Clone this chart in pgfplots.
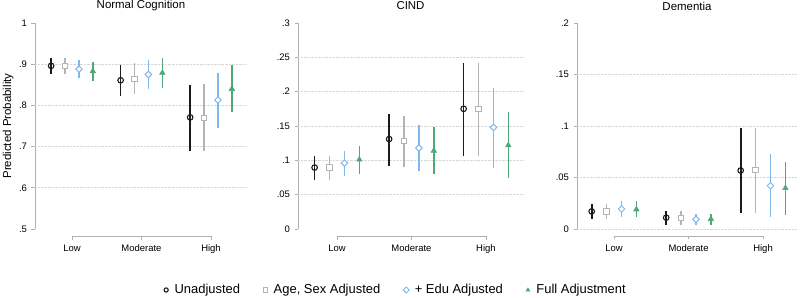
\documentclass[border=0pt]{standalone}
\usepackage{fontspec}
\setmainfont{Liberation Sans}
\usepackage{pgfplots}
\usepackage{pgfplotstable}
\pgfplotsset{compat=1.18}

\definecolor{cblack}{HTML}{1A1A1A}
\definecolor{cgray}{HTML}{B4B4B4}
\definecolor{cblue}{HTML}{7DB8EE}
\definecolor{cgreen}{HTML}{4FA877}
\definecolor{axgray}{HTML}{B0B0B0}
\definecolor{gridc}{HTML}{D8D8D8}

% cat, unadjusted (b), age-sex (g), +edu (u), full (f): value, low, high
\pgfplotstableread{
cat b bl bh g gl gh u ul uh f fl fh
0 .896 .876 .916 .895 .876 .916 .888 .866 .909 .883 .860 .906
1 .861 .823 .899 .864 .827 .902 .875 .840 .909 .879 .843 .914
2 .771 .690 .850 .770 .690 .852 .813 .746 .879 .840 .783 .898
}\tnormal
\pgfplotstableread{
cat b bl bh g gl gh u ul uh f fl fh
0 .0895 .072 .107 .0895 .072 .107 .096 .077 .114 .101 .080 .121
1 .131 .092 .168 .128 .091 .165 .118 .084 .151 .114 .080 .149
2 .175 .107 .242 .175 .107 .242 .148 .0895 .206 .122 .074 .170
}\tcind
\pgfplotstableread{
cat b bl bh g gl gh u ul uh f fl fh
0 .0171 .010 .0239 .017 .010 .024 .0194 .0116 .027 .019 .0116 .0268
1 .011 .0042 .0177 .0106 .0042 .017 .0094 .0035 .015 .0097 .0035 .015
2 .0568 .0155 .098 .057 .0155 .098 .042 .0116 .073 .0397 .0132 .0655
}\tdem

\pgfplotsset{
  panel/.style={
    scale only axis, anchor=south west, height=206bp,
    clip=false,
    axis y line*=left, axis x line*=bottom,
    x axis line style={draw=none},
    y axis line style={axgray, line width=0.6bp},
    xtick={0,1,2}, xticklabels={Low,Moderate,High},
    xtick style={draw=none},
    xticklabel style={font=\fontsize{9.5}{11}\selectfont, yshift=-9bp},
    ytick style={axgray, line width=0.6bp},
    tick align=outside, major tick length=3.5bp,
    yticklabel style={font=\fontsize{9.5}{11}\selectfont, xshift=-1bp},
    /pgf/number format/assume math mode=true,
    title style={font=\fontsize{11.5}{13}\selectfont, at={(axis description cs:0.5,1)}, anchor=center, yshift=11bp},
    extra y tick style={grid=major, major grid style={gridc, densely dotted, line width=0.6bp}, tick style={draw=none}},
    extra y tick labels={},
    error bars/y dir=both, error bars/y explicit,
    error bars/error mark=none,
    legend image code/.code={\path[draw=none,fill=none] (-2bp,-0.1bp) rectangle (6.5bp,0.1bp); \draw[##1, mark size=2.1bp] plot coordinates {(0bp,0bp)};},
  },
  sb/.style={only marks, mark=o, mark size=2.8bp, cblack, mark options={fill=white, line width=1.1bp},
    error bars/error bar style={cblack, line width=1.7bp}},
  sg/.style={only marks, mark=square*, mark size=2.6bp, cgray, mark options={fill=white, line width=1bp},
    error bars/error bar style={cgray, line width=1.5bp}},
  su/.style={only marks, mark=square*, mark size=2.3bp, cblue, mark options={rotate=45, fill=white, line width=1bp},
    error bars/error bar style={cblue, line width=1.4bp}},
  sf/.style={only marks, mark=triangle*, mark size=3.1bp, cgreen, mark options={fill=cgreen, line width=0.6bp},
    error bars/error bar style={cgreen, line width=1.4bp}},
}

\newcommand{\series}[1]{%
  \addplot[sb] table[x expr=\thisrow{cat}-0.3, y=b, y error plus expr=\thisrow{bh}-\thisrow{b}, y error minus expr=\thisrow{b}-\thisrow{bl}] {#1};
  \addplot[sg] table[x expr=\thisrow{cat}-0.1, y=g, y error plus expr=\thisrow{gh}-\thisrow{g}, y error minus expr=\thisrow{g}-\thisrow{gl}] {#1};
  \addplot[su] table[x expr=\thisrow{cat}+0.1, y=u, y error plus expr=\thisrow{uh}-\thisrow{u}, y error minus expr=\thisrow{u}-\thisrow{ul}] {#1};
  \addplot[sf] table[x expr=\thisrow{cat}+0.3, y=f, y error plus expr=\thisrow{fh}-\thisrow{f}, y error minus expr=\thisrow{f}-\thisrow{fl}] {#1};
}
\newcommand{\bracket}[1]{%
  \draw[axgray, line width=0.6bp] ([yshift=-10.5bp]axis cs:0,#1) -- ([yshift=-7bp]axis cs:0,#1) -- ([yshift=-7bp]axis cs:2,#1) -- ([yshift=-10.5bp]axis cs:2,#1);
  \draw[axgray, line width=0.6bp] ([yshift=-7bp]axis cs:1,#1) -- ([yshift=-10.5bp]axis cs:1,#1);
}

\begin{document}
\begin{tikzpicture}
\useasboundingbox (0,0) rectangle (800bp,298bp);

\begin{axis}[panel, at={(35bp,69bp)}, width=212bp,
  xmin=-0.532, xmax=2.518, ymin=0.5, ymax=1,
  ytick={0.5,0.6,0.7,0.8,0.9,1}, yticklabels={.5,.6,.7,.8,.9,1},
  extra y ticks={0.6,0.7,0.8,0.9},
  title={Normal Cognition},
  ylabel={Predicted Probability},
  ylabel style={at={(axis description cs:-0.127,0.5)}, anchor=center, font=\fontsize{11.5}{13}\selectfont},
]
\series{\tnormal}
\bracket{0.5}
\end{axis}

\begin{axis}[panel, at={(298bp,69bp)}, width=225bp,
  xmin=-0.523, xmax=2.497, ymin=0, ymax=0.3,
  ytick={0,0.05,0.1,0.15,0.2,0.25,0.3}, yticklabels={0,.05,.1,.15,.2,.25,.3},
  extra y ticks={0.05,0.1,0.15,0.2,0.25},
  title={CIND},
  legend columns=4,
  legend style={at={(axis description cs:0.435,-0.296)}, anchor=center, draw=none, fill=none,
    font=\fontsize{13}{15}\selectfont,
    /tikz/every even column/.append style={column sep=21bp}},
]
\series{\tcind}
\bracket{0}
\legend{Unadjusted, {Age, Sex Adjusted}, + Edu Adjusted, Full Adjustment}
\end{axis}

\begin{axis}[panel, at={(577bp,69bp)}, width=220bp,
  xmin=-0.497, xmax=2.456, ymin=0, ymax=0.2,
  ytick={0,0.05,0.1,0.15,0.2}, yticklabels={0,.05,.1,.15,.2},
  extra y ticks={0,0.05,0.1,0.15},
  title={Dementia},
]
\series{\tdem}
\bracket{0}
\end{axis}
\end{tikzpicture}
\end{document}
